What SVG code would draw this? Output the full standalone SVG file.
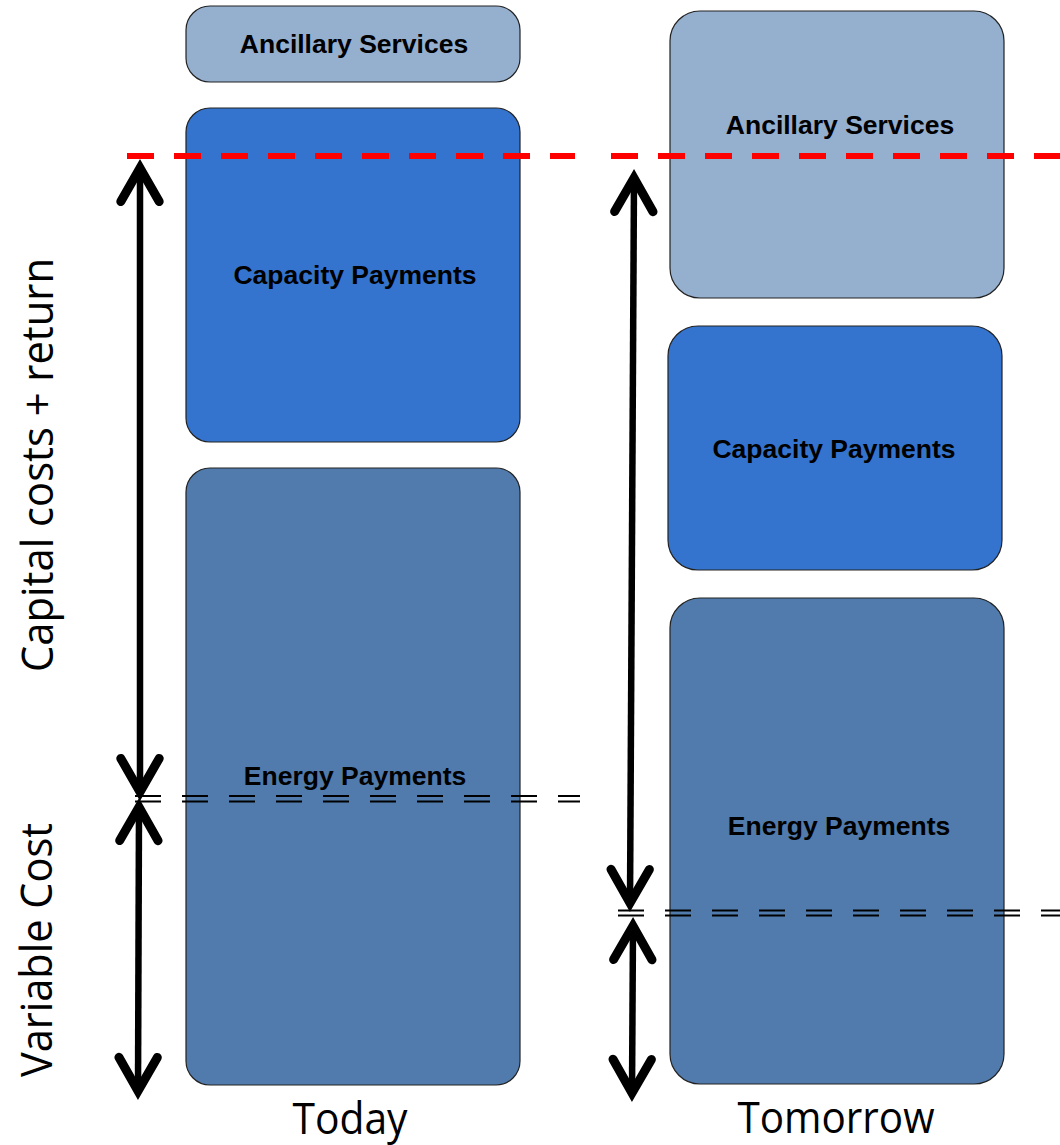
<svg xmlns="http://www.w3.org/2000/svg" width="1060" height="1145" viewBox="0 0 1060 1145">
<style>
.box{stroke:#222;stroke-width:1.2}
.anc{fill:#95AFCF}
.cap{fill:#3474CE}
.eng{fill:#517BAD}
.lbl{font-family:"Liberation Sans",Arial,sans-serif;font-weight:bold;font-size:26.5px;fill:#000;text-anchor:middle}
.side{font-family:"Open Sans","Noto Sans",sans-serif;font-size:44px;fill:#000;text-anchor:middle}
.red{stroke:#FF0000;stroke-width:6;stroke-dasharray:27 20;fill:none}
.dbl{stroke:#000;stroke-width:1.8;stroke-dasharray:26 21;fill:none}
.arr{stroke:#000;stroke-width:6.5;fill:none}
</style>
<defs>
<marker id="ah" markerUnits="userSpaceOnUse" markerWidth="60" markerHeight="60" refX="0" refY="0" viewBox="-40 -25 50 50" orient="auto-start-reverse" overflow="visible">
<path d="M-28,-16 L0,0 L-28,16" fill="none" stroke="#000" stroke-width="7.5" stroke-linecap="round" stroke-linejoin="miter"/>
</marker>
</defs>
<rect width="1060" height="1145" fill="#fff"/>
<g id="today-ancillary"><rect class="box anc" x="186" y="6" width="334" height="76" rx="24"/><text class="lbl" x="354" y="53">Ancillary Services</text></g>
<g id="today-capacity"><rect class="box cap" x="186" y="108" width="334" height="334" rx="24"/><text class="lbl" x="355" y="284">Capacity Payments</text></g>
<g id="today-energy"><rect class="box eng" x="186" y="468" width="334" height="617" rx="24"/><text class="lbl" x="355" y="785">Energy Payments</text></g>
<g id="tomorrow-ancillary"><rect class="box anc" x="670" y="11" width="334" height="287" rx="30"/><text class="lbl" x="840" y="134">Ancillary Services</text></g>
<g id="tomorrow-capacity"><rect class="box cap" x="668" y="326" width="334" height="244" rx="30"/><text class="lbl" x="834" y="458">Capacity Payments</text></g>
<g id="tomorrow-energy"><rect class="box eng" x="670" y="598" width="334" height="486" rx="30"/><text class="lbl" x="839" y="835">Energy Payments</text></g>
<g id="connectors">
<line class="red" x1="127" y1="156" x2="575" y2="156"/>
<line class="red" x1="611" y1="156" x2="1060" y2="156"/>
<line class="dbl" x1="135" y1="796" x2="580" y2="796"/>
<line class="dbl" x1="135" y1="801.5" x2="580" y2="801.5"/>
<line class="dbl" x1="618" y1="910.5" x2="1060" y2="910.5"/>
<line class="dbl" x1="618" y1="915.5" x2="1060" y2="915.5"/>
<line class="arr" x1="140" y1="168" x2="140" y2="792" marker-start="url(#ah)" marker-end="url(#ah)"/>
<line class="arr" x1="139" y1="807" x2="138" y2="1091" marker-start="url(#ah)" marker-end="url(#ah)"/>
<line class="arr" x1="634" y1="178" x2="630" y2="903" marker-start="url(#ah)" marker-end="url(#ah)"/>
<line class="arr" x1="633" y1="926" x2="632" y2="1093" marker-start="url(#ah)" marker-end="url(#ah)"/>
</g>
<g id="labels">
<text class="side" transform="translate(53,465) rotate(-90)" textLength="414" lengthAdjust="spacingAndGlyphs">Capital costs + return</text>
<text class="side" transform="translate(52,950) rotate(-90)" textLength="254" lengthAdjust="spacingAndGlyphs">Variable Cost</text>
<text class="side" x="350" y="1134" textLength="115" lengthAdjust="spacingAndGlyphs">Today</text>
<text class="side" x="836" y="1133" textLength="197" lengthAdjust="spacingAndGlyphs">Tomorrow</text>
</g>
</svg>
